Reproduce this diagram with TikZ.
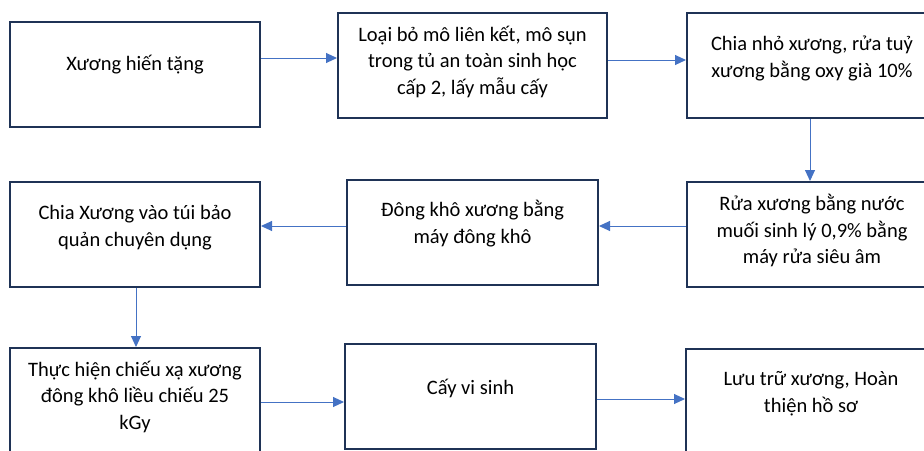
\documentclass[tikz,border=0pt]{standalone}
\usepackage{fontspec}
\setmainfont{Carlito}
\usetikzlibrary{arrows.meta}
\definecolor{boxline}{HTML}{1F3356}
\definecolor{arrowblue}{HTML}{4472C4}
\tikzset{
  stepbox/.style={rectangle, draw=boxline, line width=2pt, minimum height=105pt, inner sep=0pt},
  steptext/.style={align=center, font=\fontsize{20.5}{26.5}\selectfont, inner sep=0pt},
  flowarrow/.style={draw=arrowblue, line width=1pt, -{Triangle[length=11pt,width=10pt]}}
}
\newcommand{\flowstep}[5][8pt] {\node at (#2) (#3) [stepbox, minimum width=#4] {}; \node at ([yshift=#1]#3.center) (#3txt) [steptext] {#5};}
\newcommand{\flowright}[3] {\draw [flowarrow] (#1.east |- 0,#3) -- (#2.west |- 0,#3);}
\newcommand{\flowleft}[3] {\draw [flowarrow] (#1.west |- 0,#3) -- (#2.east |- 0,#3);}
\newcommand{\flowdown}[3] {\draw [flowarrow] (#1.south -| #3,0) -- (#2.north -| #3,0);}
\begin{document}
\begin{tikzpicture}[x=1pt, y=-1pt]
\clip (0,0) rectangle (924,450);

% first row
\flowstep[9.5pt] {135,74.5}{donor}{250pt}{Xương hiến tặng}
\flowstep[4pt] {472.5,65.5}{clean}{269pt}{Loại bỏ mô liên kết, mô sụn\\trong tủ an toàn sinh học\\cấp 2, lấy mẫu cấy}
\flowstep[7pt] {812,65.5}{split}{250pt}{Chia nhỏ xương, rửa tuỷ\\xương bằng oxy già 10\%}
% second row
\flowstep[4pt] {812,234.5}{rinse}{250pt}{Rửa xương bằng nước\\muối sinh lý 0,9\% bằng\\máy rửa siêu âm}
\flowstep[9pt] {472.5,232.5}{freeze}{251pt}{Đông khô xương bằng\\máy đông khô}
\flowstep[7pt] {135,234.5}{pack}{250pt}{Chia Xương vào túi bảo\\quản chuyên dụng}
% third row
\flowstep[4pt] {135,400.5}{irrad}{250pt}{Thực hiện chiếu xạ xương\\đông khô liều chiếu 25\\kGy}
\flowstep[8.5pt] {470.5,396.5}{culture}{251pt}{Cấy vi sinh}
\flowstep[8pt] {811,401.5}{store}{250pt}{Lưu trữ xương, Hoàn\\thiện hồ sơ}

\flowright {donor}{clean}{58}
\flowright {clean}{split}{60}
\flowdown {split}{rinse}{810}
\flowleft {rinse}{freeze}{226}
\flowleft {freeze}{pack}{226}
\flowdown {pack}{irrad}{136}
\flowright {irrad}{culture}{402}
\flowright {culture}{store}{399}
\end{tikzpicture}
\end{document}
